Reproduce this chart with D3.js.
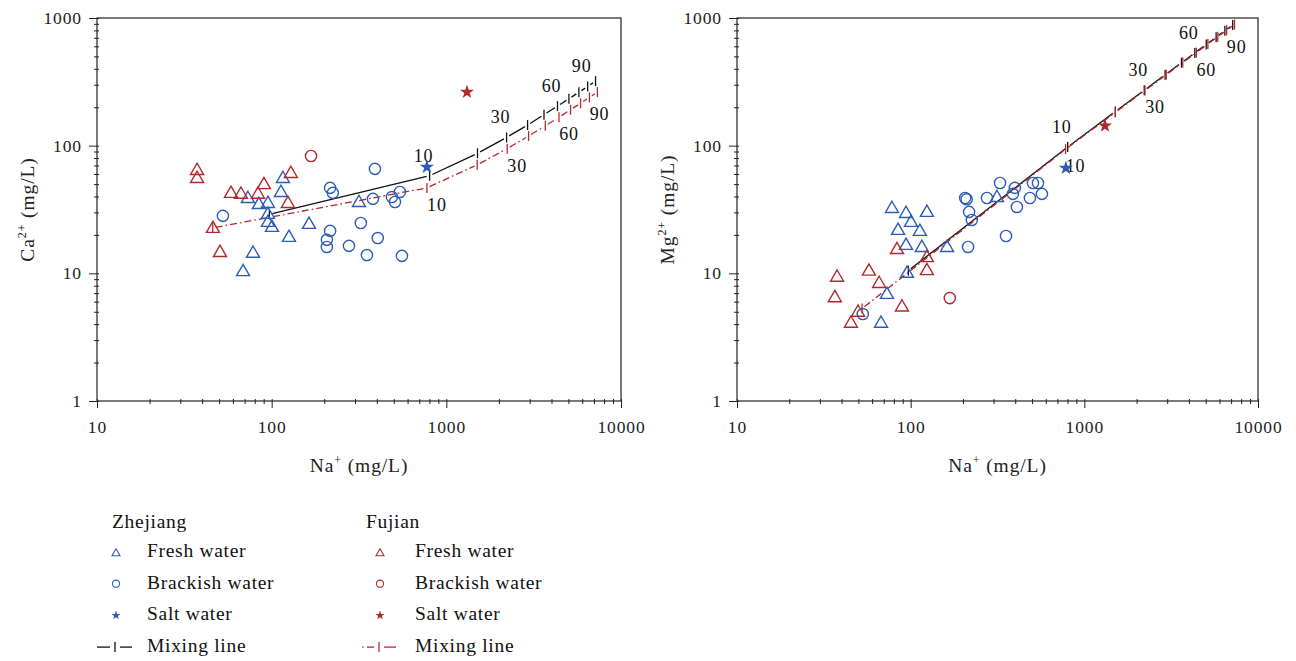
<!DOCTYPE html>
<html lang="en">
<head>
<meta charset="UTF-8">
<title>Na+ vs Ca2+ and Mg2+ with mixing lines</title>
<script src="https://d3js.org/d3.v7.min.js"></script>
<style>
  body { margin: 0; background: #fff; }
  svg { display: block; font-family: "Liberation Serif", "DejaVu Serif", serif; }
</style>
</head>
<body>
<div id="chart"></div>
<script>
// ---- data: [Na, Ca] (left) and [Na, Mg] (right), mg/L ----
const zjFreshCa = [[68.6,10.4],[78.2,14.5],[73.1,38.9],[84.5,34.9],[95.2,35.6],[95.2,29.2],[95.2,25.3],
  [100.4,23.1],[116,55.8],[113,43.4],[125.6,19.3],[163.6,24.4],[316,36.2]]
const zjBrackishCa = [[52.6,28.2],[216,46.7],[224,42.7],[390,65.8],[380,38.3],[488,39.6],[508,36.2],[542,43.4],
  [216,21.5],[207,18.3],[207,16.1],[277,16.4],[324,24.8],[351,13.9],[405,18.9],[557,13.7]]
const zjSaltCa = [[774,68]]
const fjFreshCa = [[37.4,64.5],[37.4,55.8],[46.1,22.7],[50.6,14.7],[58.5,42.7],[66.7,42],[83.5,42],
  [90.3,50],[128.8,61.1],[123.9,35.6]]
const fjBrackishCa = [[168,83]]
const fjSaltCa = [[1313,263]]

const zjFreshMg = [[78,32.5],[94,29.7],[100.4,25.3],[124,30.3],[84.6,21.9],[113,21.5],[94,16.7],[116,16.1],
  [95.3,10.1],[73,6.9],[67.5,4.1],[314,39.6],[162,16.1]]
const zjBrackishMg = [[53,4.8],[206,38.9],[210,38],[217,30.3],[225,26.2],[275,38.9],[327,51],[398,46.7],
  [388,41.9],[409,33.1],[506,51],[541,51],[570,41.9],[486,38.9],[214,16.1],[354,19.6]]
const zjSaltMg = [[783,66.8]]
const fjFreshMg = [[37.7,9.4],[36.6,6.5],[57.5,10.5],[65.8,8.4],[83.4,15.5],[49.8,5.0],[45.3,4.1],
  [89.1,5.5],[124,13.4],[124,10.6]]
const fjBrackishMg = [[168,6.4]]
const fjSaltMg = [[1315,143]]

// mixing lines, seawater fraction 0 ... 100 %
const mixPercent = [0, 10, 20, 30, 40, 50, 60, 70, 80, 90, 100]
const mixLabelPercent = [10, 30, 60, 90]
const zjMixNa = [97, 802, 1508, 2213, 2918, 3624, 4329, 5034, 5739, 6445, 7150]
const zjMixCa = [29, 58.1, 87.2, 116, 145, 175, 204, 233, 262, 291, 320]
const zjMixMg = [10.5, 97.7, 185, 272, 359, 446, 533, 620, 708, 795, 882]
const fjMixNa = [46, 774, 1502, 2230, 2958, 3686, 4414, 5142, 5870, 6598, 7326]
const fjMixCa = [22.7, 46.7, 70.8, 94.8, 119, 143, 167, 191, 215, 239, 263]
const fjMixNaMg = [52.5, 780, 1508, 2235, 2963, 3689, 4416, 5144, 5871, 6598, 7326]
const fjMixMg = [5.3, 93.8, 182, 271, 359, 448, 536, 625, 713, 802, 890]

const xTicks = [10, 100, 1000, 10000]
const yTicks = [1, 10, 100, 1000]

const blue = '#2c5cb6'
const red = '#b3282c'
const W = 1296, H = 661

const svg = d3.select('#chart').append('svg')
  .attr('width', W).attr('height', H)

const minorTicks = (lo, hi) => {
  const out = []
  for (let p = lo; p < hi; p *= 10) for (let k = 2; k <= 9; k++) out.push(p * k)
  return out
}

const triPath = s => {
  const h = s * 0.866
  return `M0,${-h * 0.6}L${s / 2},${h * 0.4}L${-s / 2},${h * 0.4}Z`
}

function drawMarkers(g, pts, type, color, x, y) {
  const sel = g.selectAll(null).data(pts).enter()
  if (type === 'tri') {
    sel.append('path').attr('d', triPath(13))
      .attr('transform', d => `translate(${x(d[0])},${y(d[1])})`)
      .attr('fill', 'none').attr('stroke', color).attr('stroke-width', 1.4)
  } else if (type === 'circle') {
    sel.append('circle').attr('cx', d => x(d[0])).attr('cy', d => y(d[1])).attr('r', 5.6)
      .attr('fill', 'none').attr('stroke', color).attr('stroke-width', 1.4)
  } else {
    sel.append('path').attr('d', d3.symbol(d3.symbolStar, 62)())
      .attr('transform', d => `translate(${x(d[0])},${y(d[1])})`)
      .attr('fill', color)
  }
}

function drawMix(g, na, val, color, dash, labelDx, labelDy, x, y, top) {
  const pts = na.map((n, i) => [x(n), y(val[i])])
  const gap = 3
  for (let i = 0; i < pts.length - 1; i++) {
    const [ax, ay] = pts[i], [bx, by] = pts[i + 1]
    const len = Math.hypot(bx - ax, by - ay)
    const ux = (bx - ax) / len, uy = (by - ay) / len
    g.append('line')
      .attr('x1', ax + ux * gap).attr('y1', ay + uy * gap)
      .attr('x2', bx - ux * gap).attr('y2', by - uy * gap)
      .attr('stroke', color).attr('stroke-width', 1.3)
      .attr('stroke-dasharray', dash)
  }
  g.selectAll(null).data(pts).enter().append('line')
    .attr('x1', d => d[0]).attr('x2', d => d[0])
    .attr('y1', d => d[1] - 5).attr('y2', d => d[1] + 5)
    .attr('stroke', color).attr('stroke-width', 1.3)
  const labels = mixLabelPercent.filter(p => pts[mixPercent.indexOf(p)][1] + labelDy > top + 14)
  g.selectAll(null).data(labels).enter().append('text')
    .attr('x', p => pts[mixPercent.indexOf(p)][0] + labelDx)
    .attr('y', p => pts[mixPercent.indexOf(p)][1] + labelDy)
    .attr('text-anchor', 'middle')
    .attr('font-size', 18)
    .attr('letter-spacing', 0.8)
    .attr('fill', '#111')
    .text(p => p)
}

function panel(id, x0, x1, yLabel, sets, mix) {
  const top = 18, bottom = 401
  const x = d3.scaleLog().domain([10, 10000]).range([x0, x1])
  const y = d3.scaleLog().domain([1, 1000]).range([bottom, top])
  const g = svg.append('g')

  g.append('clipPath').attr('id', 'clip-' + id)
    .append('rect').attr('x', x0).attr('y', top).attr('width', x1 - x0).attr('height', bottom - top)

  // axes: ticks stick out, and a little way in
  const ax = g.append('g').attr('transform', `translate(0,${bottom})`)
  ax.call(d3.axisBottom(x).tickValues(xTicks).tickFormat(d3.format('d')).tickSize(7).tickPadding(13))
  ax.append('g').call(d3.axisBottom(x).tickValues(minorTicks(10, 10000)).tickFormat('').tickSize(3))
  ax.selectAll('.tick line').attr('y1', -2)
  const ay = g.append('g').attr('transform', `translate(${x0},0)`)
  ay.call(d3.axisLeft(y).tickValues(yTicks).tickFormat(d3.format('d')).tickSize(8).tickPadding(7))
  ay.append('g').call(d3.axisLeft(y).tickValues(minorTicks(1, 1000)).tickFormat('').tickSize(3))
  ay.selectAll('.tick line').attr('x1', 2)
  g.selectAll('.domain').remove()
  g.selectAll('.tick line').attr('stroke', '#222')
  g.selectAll('.tick text').attr('font-size', 17.5).attr('fill', '#222')
    .attr('letter-spacing', 0.9)
    .attr('font-family', '"Liberation Serif", serif')

  g.append('rect').attr('x', x0).attr('y', top).attr('width', x1 - x0).attr('height', bottom - top)
    .attr('fill', 'none').attr('stroke', '#222').attr('stroke-width', 1.2)

  // axis titles
  const xt = g.append('text').attr('x', (x0 + x1) / 2).attr('y', 472)
    .attr('text-anchor', 'middle').attr('font-size', 19.5).attr('letter-spacing', 0.9).attr('fill', '#222')
  xt.append('tspan').text('Na')
  xt.append('tspan').attr('dy', -8).attr('font-size', 12).text('+')
  xt.append('tspan').attr('dy', 8).text(' (mg/L)')

  const yt = g.append('text').attr('transform', 'rotate(-90)')
    .attr('x', -(top + bottom) / 2).attr('y', x0 - 63)
    .attr('text-anchor', 'middle').attr('font-size', 19.5).attr('letter-spacing', 0.9).attr('fill', '#222')
  yt.append('tspan').text(yLabel)
  yt.append('tspan').attr('dy', -8).attr('font-size', 12).text('2+')
  yt.append('tspan').attr('dy', 8).text(' (mg/L)')

  const plot = g.append('g').attr('clip-path', `url(#clip-${id})`)
  drawMix(plot, mix.zjNa, mix.zjVal, '#111', null, -6, -14, x, y, top)
  drawMix(plot, mix.fjNa, mix.fjVal, red, '7,3,1.6,3', 10, 23, x, y, top)
  sets.forEach(s => drawMarkers(plot, s.pts, s.type, s.color, x, y))
}

panel('ca', 97, 621, 'Ca', [
  { pts: zjFreshCa, type: 'tri', color: blue },
  { pts: zjBrackishCa, type: 'circle', color: blue },
  { pts: fjFreshCa, type: 'tri', color: red },
  { pts: fjBrackishCa, type: 'circle', color: red },
  { pts: zjSaltCa, type: 'star', color: blue },
  { pts: fjSaltCa, type: 'star', color: red }
], { zjNa: zjMixNa, zjVal: zjMixCa, fjNa: fjMixNa, fjVal: fjMixCa })

panel('mg', 737, 1258, 'Mg', [
  { pts: zjFreshMg, type: 'tri', color: blue },
  { pts: zjBrackishMg, type: 'circle', color: blue },
  { pts: fjFreshMg, type: 'tri', color: red },
  { pts: fjBrackishMg, type: 'circle', color: red },
  { pts: zjSaltMg, type: 'star', color: blue },
  { pts: fjSaltMg, type: 'star', color: red }
], { zjNa: zjMixNa, zjVal: zjMixMg, fjNa: fjMixNaMg, fjVal: fjMixMg })

// ---- legend ----
const legendGroups = ['Zhejiang', 'Fujian']
const legendItems = ['Fresh water', 'Brackish water', 'Salt water', 'Mixing line']
const legendCols = [{ head: 112, mark: 116, text: 147, color: blue }, { head: 366, mark: 380, text: 415, color: red }]

const lg = svg.append('g').attr('font-size', 19.5).attr('letter-spacing', 0.7).attr('fill', '#111')
legendCols.forEach((c, ci) => {
  lg.append('text').attr('x', c.head).attr('y', 528).text(legendGroups[ci])
  legendItems.forEach((t, i) => {
    const cy = 552 + i * 31.7
    lg.append('text').attr('x', c.text).attr('y', cy + 5).text(t)
    if (i === 0) {
      lg.append('path').attr('d', triPath(8)).attr('transform', `translate(${c.mark},${cy + 1})`)
        .attr('fill', 'none').attr('stroke', c.color).attr('stroke-width', 1.1)
    } else if (i === 1) {
      lg.append('circle').attr('cx', c.mark).attr('cy', cy).attr('r', 3.6)
        .attr('fill', 'none').attr('stroke', c.color).attr('stroke-width', 1.1)
    } else if (i === 2) {
      lg.append('path').attr('d', d3.symbol(d3.symbolStar, 26)()).attr('transform', `translate(${c.mark},${cy})`)
        .attr('fill', c.color)
    } else {
      const col = ci === 0 ? '#111' : red
      const m = c.mark - 1
      if (ci === 1) {
        lg.append('circle').attr('cx', m - 16).attr('cy', cy).attr('r', 0.8).attr('fill', col)
      }
      lg.append('line').attr('x1', ci === 0 ? m - 18 : m - 12).attr('x2', m - 5).attr('y1', cy).attr('y2', cy)
        .attr('stroke', col).attr('stroke-width', 1.3)
      lg.append('line').attr('x1', m).attr('x2', m).attr('y1', cy - 5).attr('y2', cy + 5)
        .attr('stroke', col).attr('stroke-width', 1.3)
      lg.append('line').attr('x1', m + 5).attr('x2', m + 17).attr('y1', cy).attr('y2', cy)
        .attr('stroke', col).attr('stroke-width', 1.3)
    }
  })
})
</script>
</body>
</html>
